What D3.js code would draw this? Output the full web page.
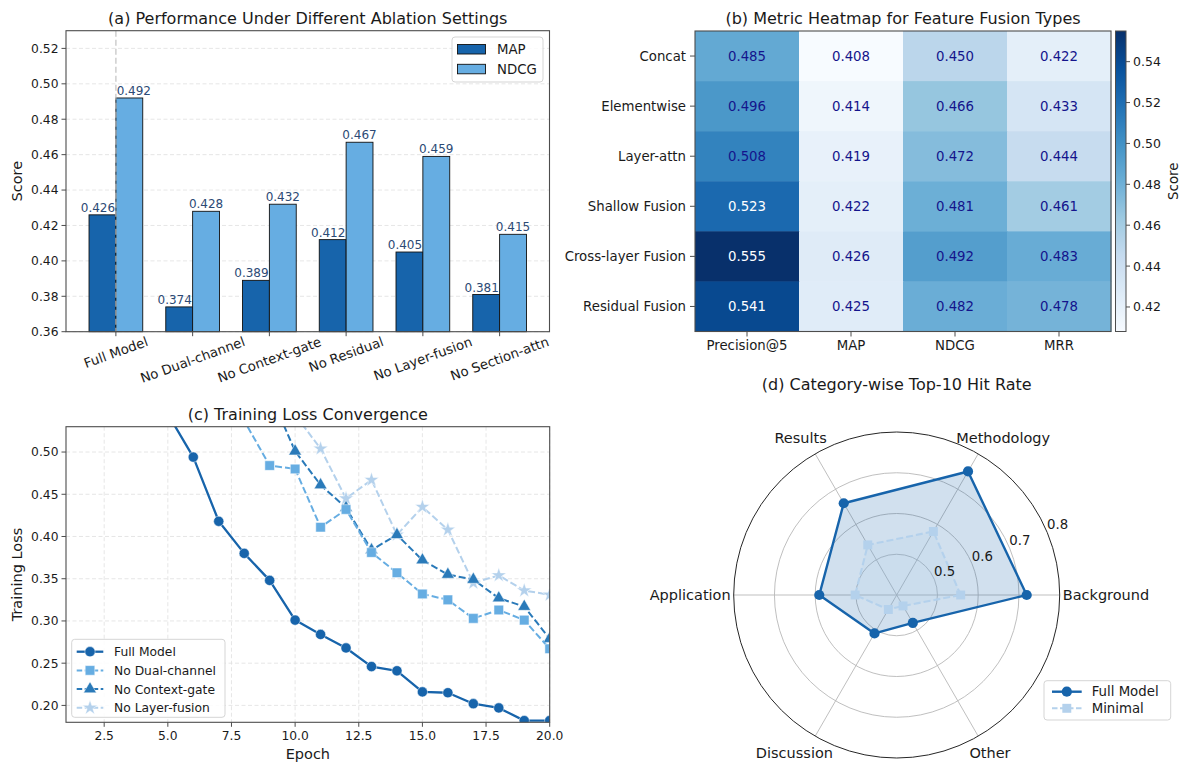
<!DOCTYPE html>
<html><head><meta charset="utf-8">
<script src="https://cdn.jsdelivr.net/npm/d3@7"></script>
<style>
body{margin:0;background:#fff}
svg{display:block;font-family:"DejaVu Sans",sans-serif}
</style></head>
<body><svg id="fig" width="1180" height="765"></svg>
<script>
// ---------- data ----------
const ablationCategories = ["Full Model","No Dual-channel","No Context-gate","No Residual","No Layer-fusion","No Section-attn"];
const mapScores  = [0.426,0.374,0.389,0.412,0.405,0.381];
const ndcgScores = [0.492,0.428,0.432,0.467,0.459,0.415];
const scoreTicks = [0.36,0.38,0.40,0.42,0.44,0.46,0.48,0.50,0.52];

const fusionTypes = ["Concat","Elementwise","Layer-attn","Shallow Fusion","Cross-layer Fusion","Residual Fusion"];
const heatMetrics = ["Precision@5","MAP","NDCG","MRR"];
const heatPrecision5 = [0.485,0.496,0.508,0.523,0.555,0.541];
const heatMAP  = [0.408,0.414,0.419,0.422,0.426,0.425];
const heatNDCG = [0.450,0.466,0.472,0.481,0.492,0.482];
const heatMRR  = [0.422,0.433,0.444,0.461,0.483,0.478];
const colorbarTicks = [0.42,0.44,0.46,0.48,0.50,0.52,0.54];

const epochs = [1,2,3,4,5,6,7,8,9,10,11,12,13,14,15,16,17,18,19,20];
const lossFullModel     = [0.86,0.76,0.68,0.61,0.545,0.494,0.418,0.380,0.348,0.301,0.284,0.268,0.246,0.241,0.216,0.215,0.202,0.197,0.182,0.182];
const lossNoDualChannel = [0.92,0.84,0.77,0.71,0.65,0.60,0.565,0.537,0.484,0.480,0.411,0.432,0.381,0.357,0.332,0.325,0.303,0.313,0.301,0.267];
const lossNoContextGate = [0.95,0.88,0.81,0.75,0.70,0.66,0.63,0.60,0.570,0.501,0.461,0.434,0.384,0.402,0.372,0.355,0.349,0.327,0.317,0.279];
const lossNoLayerFusion = [0.98,0.90,0.83,0.77,0.72,0.68,0.64,0.61,0.575,0.544,0.504,0.445,0.467,0.402,0.435,0.408,0.345,0.354,0.336,0.331];
const epochTicks = [2.5,5.0,7.5,10.0,12.5,15.0,17.5,20.0];
const lossTicks = [0.20,0.25,0.30,0.35,0.40,0.45,0.50];

const radarCategories = ["Background","Methodology","Results","Application","Discussion","Other"];
const hitFullModel = [0.719,0.750,0.660,0.590,0.509,0.479];
const hitMinimal   = [0.557,0.580,0.542,0.502,0.441,0.431];
const radarTicks = [0.5,0.6,0.7,0.8];

// ---------- palette ----------
const cDark = "#1764ab", cLight = "#66ade2", cMid = "#2a7ab9", cPale = "#b4d1ec";
const textCol = "#1a1a1a", spineCol = "#4d4d4d", gridCol = "#e0e0e0";
const svg = d3.select("#fig");
const defs = svg.append("defs");

function title(x, y, t){ svg.append("text").attr("x",x).attr("y",y).attr("text-anchor","middle")
  .attr("font-size",16).attr("fill",textCol).text(t); }

// ================= (a) grouped bars =================
const A = {l:66, r:549.5, t:30.7, b:331.7};
const xA = d3.scaleLinear().domain([-0.65,5.65]).range([A.l,A.r]);
const yA = d3.scaleLinear().domain([0.36,0.53]).range([A.b,A.t]);
const barW = 0.35;
const gA = svg.append("g");
gA.selectAll(null).data(scoreTicks).join("line")
  .attr("x1",A.l).attr("x2",A.r).attr("y1",d=>yA(d)).attr("y2",d=>yA(d))
  .attr("stroke",gridCol).attr("stroke-width",0.8).attr("stroke-dasharray","4,2.5");
const series = [{name:"MAP",vals:mapScores,col:cDark,off:-barW/2},{name:"NDCG",vals:ndcgScores,col:cLight,off:barW/2}];
series.forEach(s=>{
  gA.selectAll(null).data(s.vals).join("rect")
    .attr("x",(d,i)=>xA(i+s.off-barW/2)).attr("width",xA(barW)-xA(0))
    .attr("y",d=>yA(d)).attr("height",d=>yA(0.36)-yA(d))
    .attr("fill",s.col).attr("stroke","#111").attr("stroke-width",0.9);
});
// reference line at the full model
gA.append("line").attr("x1",xA(0)).attr("x2",xA(0)).attr("y1",A.t).attr("y2",A.b)
  .attr("stroke","#bdbdbd").attr("stroke-opacity",0.75).attr("stroke-width",1.5).attr("stroke-dasharray","6,3");
series.forEach((s,si)=>{
  gA.selectAll(null).data(s.vals).join("text")
    .attr("x",(d,i)=>xA(i+s.off) + (si===0 ? -4.5 : (i===0 ? 4.5 : 0)))
    .attr("y",d=>yA(d)-3).attr("text-anchor","middle").attr("font-size",12).attr("fill","#2c4a75")
    .text(d=>d.toFixed(3));
});
gA.append("rect").attr("x",A.l).attr("y",A.t).attr("width",A.r-A.l).attr("height",A.b-A.t)
  .attr("fill","none").attr("stroke",spineCol).attr("stroke-width",1.1);
gA.selectAll(null).data(scoreTicks).join("line")
  .attr("x1",A.l-4.5).attr("x2",A.l).attr("y1",d=>yA(d)).attr("y2",d=>yA(d)).attr("stroke",spineCol);
gA.selectAll(null).data(scoreTicks).join("text")
  .attr("x",A.l-7.5).attr("y",d=>yA(d)).attr("dy","0.36em").attr("text-anchor","end")
  .attr("font-size",12.3).attr("fill",textCol).text(d=>d.toFixed(2));
gA.selectAll(null).data(ablationCategories).join("line")
  .attr("x1",(d,i)=>xA(i)).attr("x2",(d,i)=>xA(i)).attr("y1",A.b).attr("y2",A.b+4.5).attr("stroke",spineCol);
ablationCategories.forEach((c,i)=>{
  const t = gA.append("text").attr("font-size",13.3).attr("fill",textCol).attr("text-anchor","middle").attr("dy","0.35em").text(c);
  const w = t.node().getComputedTextLength(), h = 15.5, th = 20*Math.PI/180;
  const H = w*Math.sin(th) + h*Math.cos(th);
  t.attr("transform",`translate(${xA(i)},${A.b+2+H/2}) rotate(-20)`);
});
gA.append("text").attr("transform",`translate(17,${(A.t+A.b)/2}) rotate(-90)`).attr("dy","0.35em")
  .attr("text-anchor","middle").attr("font-size",14.5).attr("fill",textCol).text("Score");
// legend
const lgA = gA.append("g");
lgA.append("rect").attr("x",452).attr("y",37).attr("width",91).attr("height",45).attr("rx",3)
  .attr("fill","#fff").attr("fill-opacity",0.8).attr("stroke","#d5d5d5");
series.forEach((s,i)=>{
  lgA.append("rect").attr("x",457.5).attr("y",44.5+i*19.8).attr("width",28).attr("height",9.5)
    .attr("fill",s.col).attr("stroke","#111").attr("stroke-width",0.9);
  lgA.append("text").attr("x",497).attr("y",49.3+i*19.8).attr("dy","0.36em").attr("font-size",13.3).attr("fill",textCol).text(s.name);
});
title((A.l+A.r)/2, 23.5, "(a) Performance Under Different Ablation Settings");

// ================= (b) heatmap =================
const B = {l:695, r:1111, t:31, b:331.5};
const heatColumns = [heatPrecision5, heatMAP, heatNDCG, heatMRR];
const cells = [];
fusionTypes.forEach((f,ri)=>heatMetrics.forEach((m,ci)=>cells.push({row:f,col:m,v:heatColumns[ci][ri]})));
const vmin = d3.min(cells,d=>d.v), vmax = d3.max(cells,d=>d.v);
const blues9 = ["#f7fbff","#deebf7","#c6dbef","#9ecae1","#6baed6","#4292c6","#2171b5","#08519c","#08306b"];
const colorB = d3.scaleLinear().domain(blues9.map((c,i)=>vmin+i*(vmax-vmin)/8)).range(blues9).interpolate(d3.interpolateRgb);
const xB = d3.scaleBand().domain(heatMetrics).range([B.l,B.r]);
const yB = d3.scaleBand().domain(fusionTypes).range([B.t,B.b]);
const gB = svg.append("g");
gB.selectAll(null).data(cells).join("rect")
  .attr("x",d=>xB(d.col)).attr("y",d=>yB(d.row)).attr("width",xB.bandwidth()+0.5).attr("height",yB.bandwidth()+0.5)
  .attr("fill",d=>colorB(d.v));
gB.selectAll(null).data(cells).join("text")
  .attr("x",d=>xB(d.col)+xB.bandwidth()/2).attr("y",d=>yB(d.row)+yB.bandwidth()/2).attr("dy","0.36em")
  .attr("text-anchor","middle").attr("font-size",13.3)
  .attr("fill",d=>d.v>0.515?"#ffffff":"#14148c").text(d=>d.v.toFixed(3));
gB.append("rect").attr("x",B.l).attr("y",B.t).attr("width",B.r-B.l).attr("height",B.b-B.t)
  .attr("fill","none").attr("stroke",spineCol).attr("stroke-width",1.1);
gB.selectAll(null).data(fusionTypes).join("line")
  .attr("x1",B.l-5).attr("x2",B.l).attr("y1",d=>yB(d)+yB.bandwidth()/2).attr("y2",d=>yB(d)+yB.bandwidth()/2).attr("stroke",spineCol);
gB.selectAll(null).data(fusionTypes).join("text")
  .attr("x",B.l-9).attr("y",d=>yB(d)+yB.bandwidth()/2).attr("dy","0.36em").attr("text-anchor","end")
  .attr("font-size",13.3).attr("fill",textCol).text(d=>d);
gB.selectAll(null).data(heatMetrics).join("line")
  .attr("x1",d=>xB(d)+xB.bandwidth()/2).attr("x2",d=>xB(d)+xB.bandwidth()/2).attr("y1",B.b).attr("y2",B.b+5).attr("stroke",spineCol);
gB.selectAll(null).data(heatMetrics).join("text")
  .attr("x",d=>xB(d)+xB.bandwidth()/2).attr("y",350).attr("text-anchor","middle")
  .attr("font-size",13.3).attr("fill",textCol).text(d=>d);
// colorbar
const CB = {l:1115.5, r:1126, t:B.t, b:B.b};
const yCB = d3.scaleLinear().domain([vmin,vmax]).range([CB.b,CB.t]);
const grad = defs.append("linearGradient").attr("id","cbGrad")
  .attr("x1",0).attr("y1",1).attr("x2",0).attr("y2",0);
d3.range(0,1.0001,0.02).forEach(t=>grad.append("stop").attr("offset",t).attr("stop-color",colorB(vmin+t*(vmax-vmin))));
gB.append("rect").attr("x",CB.l).attr("y",CB.t).attr("width",CB.r-CB.l).attr("height",CB.b-CB.t)
  .attr("fill","url(#cbGrad)").attr("stroke",spineCol).attr("stroke-width",1);
gB.selectAll(null).data(colorbarTicks).join("line")
  .attr("x1",CB.r).attr("x2",CB.r+4).attr("y1",d=>yCB(d)).attr("y2",d=>yCB(d)).attr("stroke",spineCol);
gB.selectAll(null).data(colorbarTicks).join("text")
  .attr("x",CB.r+7).attr("y",d=>yCB(d)).attr("dy","0.36em").attr("font-size",12.5).attr("fill",textCol).text(d=>d.toFixed(2));
gB.append("text").attr("transform",`translate(1173,${(CB.t+CB.b)/2}) rotate(-90)`).attr("dy","0.35em")
  .attr("text-anchor","middle").attr("font-size",13.3).attr("fill",textCol).text("Score");
title((B.l+B.r)/2, 23.5, "(b) Metric Heatmap for Feature Fusion Types");

// ================= (c) loss curves =================
const C = {l:66, r:549.7, t:426.7, b:722.3};
const xC = d3.scaleLinear().domain([1,20]).range([C.l,C.r]);
const yC = d3.scaleLinear().domain([0.18,0.53]).range([C.b,C.t]);
const gC = svg.append("g");
defs.append("clipPath").attr("id","clipC").append("rect")
  .attr("x",C.l).attr("y",C.t).attr("width",C.r-C.l).attr("height",C.b-C.t);
gC.selectAll(null).data(lossTicks).join("line")
  .attr("x1",C.l).attr("x2",C.r).attr("y1",d=>yC(d)).attr("y2",d=>yC(d))
  .attr("stroke",gridCol).attr("stroke-width",0.8).attr("stroke-dasharray","4,2.5");
gC.selectAll(null).data(epochTicks).join("line")
  .attr("x1",d=>xC(d)).attr("x2",d=>xC(d)).attr("y1",C.t).attr("y2",C.b)
  .attr("stroke",gridCol).attr("stroke-width",0.8).attr("stroke-dasharray","4,2.5");
const lossSeries = [
  {name:"Full Model", vals:lossFullModel, col:cDark, dash:null, sym:d3.symbolCircle, size:82, lw:2.3},
  {name:"No Dual-channel", vals:lossNoDualChannel, col:cLight, dash:"7,3", sym:d3.symbolSquare, size:92, lw:2},
  {name:"No Context-gate", vals:lossNoContextGate, col:cMid, dash:"7,3", sym:d3.symbolTriangle, size:72, lw:2},
  {name:"No Layer-fusion", vals:lossNoLayerFusion, col:cPale, dash:"7,3", sym:d3.symbolStar, size:70, lw:2}
];
const plotC = gC.append("g").attr("clip-path","url(#clipC)");
const lineC = d3.line().x((d,i)=>xC(epochs[i])).y(d=>yC(d));
lossSeries.slice().reverse().forEach(s=>{
  plotC.append("path").attr("d",lineC(s.vals)).attr("fill","none").attr("stroke",s.col)
    .attr("stroke-width",s.lw).attr("stroke-dasharray",s.dash).attr("stroke-linejoin","round");
  plotC.selectAll(null).data(s.vals).join("path")
    .attr("transform",(d,i)=>`translate(${xC(epochs[i])},${yC(d)})`)
    .attr("d",d3.symbol().type(s.sym).size(s.size)).attr("fill",s.col).attr("stroke","#fff").attr("stroke-width",0.5);
});
gC.append("rect").attr("x",C.l).attr("y",C.t).attr("width",C.r-C.l).attr("height",C.b-C.t)
  .attr("fill","none").attr("stroke",spineCol).attr("stroke-width",1.1);
gC.selectAll(null).data(lossTicks).join("line")
  .attr("x1",C.l-4.5).attr("x2",C.l).attr("y1",d=>yC(d)).attr("y2",d=>yC(d)).attr("stroke",spineCol);
gC.selectAll(null).data(lossTicks).join("text")
  .attr("x",C.l-7.5).attr("y",d=>yC(d)).attr("dy","0.36em").attr("text-anchor","end")
  .attr("font-size",12.3).attr("fill",textCol).text(d=>d.toFixed(2));
gC.selectAll(null).data(epochTicks).join("line")
  .attr("x1",d=>xC(d)).attr("x2",d=>xC(d)).attr("y1",C.b).attr("y2",C.b+4.5).attr("stroke",spineCol);
gC.selectAll(null).data(epochTicks).join("text")
  .attr("x",d=>xC(d)).attr("y",739.5).attr("text-anchor","middle")
  .attr("font-size",12.3).attr("fill",textCol).text(d=>d.toFixed(1));
gC.append("text").attr("x",(C.l+C.r)/2).attr("y",758.5).attr("text-anchor","middle")
  .attr("font-size",14.5).attr("fill",textCol).text("Epoch");
gC.append("text").attr("transform",`translate(17,${(C.t+C.b)/2}) rotate(-90)`).attr("dy","0.35em")
  .attr("text-anchor","middle").attr("font-size",14.5).attr("fill",textCol).text("Training Loss");
const lgC = gC.append("g");
lgC.append("rect").attr("x",71.7).attr("y",639.3).attr("width",153.3).attr("height",78).attr("rx",3)
  .attr("fill","#fff").attr("fill-opacity",0.85).attr("stroke","#d5d5d5");
lossSeries.forEach((s,i)=>{
  const y = 651.7 + i*18.7;
  lgC.append("line").attr("x1",76.7).attr("x2",103.3).attr("y1",y).attr("y2",y)
    .attr("stroke",s.col).attr("stroke-width",s.lw).attr("stroke-dasharray",s.dash?"5.5,2.5":null);
  lgC.append("path").attr("transform",`translate(90,${y})`).attr("d",d3.symbol().type(s.sym).size(s.size))
    .attr("fill",s.col).attr("stroke","#fff").attr("stroke-width",0.5);
  lgC.append("text").attr("x",114).attr("y",y).attr("dy","0.36em").attr("font-size",12.3).attr("fill",textCol).text(s.name);
});
title((C.l+C.r)/2, 420, "(c) Training Loss Convergence");

// ================= (d) radar =================
const Dd = {cx:896.7, cy:595, R:163};
const rD = d3.scaleLinear().domain([0.4,0.8]).range([0,Dd.R]);
const nCat = radarCategories.length;
const thetaOf = i => i*2*Math.PI/nCat;          // counter-clockwise from east
const gD = svg.append("g").attr("transform",`translate(${Dd.cx},${Dd.cy})`);
gD.selectAll(null).data(radarTicks.slice(0,-1)).join("circle").attr("r",d=>rD(d))
  .attr("fill","none").attr("stroke","#b8b8b8").attr("stroke-width",0.9);
gD.selectAll(null).data(radarCategories).join("line")
  .attr("x1",0).attr("y1",0).attr("x2",(d,i)=>Dd.R*Math.cos(thetaOf(i))).attr("y2",(d,i)=>-Dd.R*Math.sin(thetaOf(i)))
  .attr("stroke","#b8b8b8").attr("stroke-width",0.9);
const radial = d3.lineRadial().angle((d,i)=>Math.PI/2 - thetaOf(i)).radius(d=>rD(d)).curve(d3.curveLinearClosed);
const radarSeries = [
  {name:"Full Model", vals:hitFullModel, col:cDark, dash:null, sym:d3.symbolCircle, size:82, lw:2.4},
  {name:"Minimal", vals:hitMinimal, col:cPale, dash:"7,3", sym:d3.symbolSquare, size:80, lw:2.1}
];
radarSeries.forEach(s=>{
  gD.append("path").attr("d",radial(s.vals)).attr("fill",s.col).attr("fill-opacity",0.2).attr("stroke","none");
});
radarSeries.slice().reverse().forEach(s=>{
  gD.append("path").attr("d",radial(s.vals)).attr("fill","none").attr("stroke",s.col)
    .attr("stroke-width",s.lw).attr("stroke-dasharray",s.dash).attr("stroke-linejoin","round");
  gD.selectAll(null).data(s.vals).join("path")
    .attr("transform",(d,i)=>`translate(${rD(d)*Math.cos(thetaOf(i))},${-rD(d)*Math.sin(thetaOf(i))})`)
    .attr("d",d3.symbol().type(s.sym).size(s.size)).attr("fill",s.col);
});
gD.append("circle").attr("r",Dd.R).attr("fill","none").attr("stroke","#262626").attr("stroke-width",1);
const rlab = 22.5*Math.PI/180;
gD.selectAll(null).data(radarTicks).join("text")
  .attr("x",d=>rD(d)*Math.cos(rlab)+10.3).attr("y",d=>-rD(d)*Math.sin(rlab)-8).attr("dy","0.36em")
  .attr("text-anchor","middle").attr("font-size",13.3).attr("fill",textCol).text(d=>d.toFixed(1));
radarCategories.forEach((c,i)=>{
  const th = thetaOf(i);
  const t = gD.append("text").attr("font-size",14.5).attr("fill",textCol).attr("text-anchor","middle").attr("dy","0.36em").text(c);
  const w = t.node().getComputedTextLength();
  t.attr("x",Math.cos(th)*(Dd.R + 3 + w/2)).attr("y",-Math.sin(th)*(Dd.R + 19));
});
const lgD = svg.append("g");
lgD.append("rect").attr("x",1044).attr("y",680.7).attr("width",126.7).attr("height",39.3).attr("rx",3)
  .attr("fill","#fff").attr("fill-opacity",0.85).attr("stroke","#d5d5d5");
radarSeries.forEach((s,i)=>{
  const y = 691.7 + i*16.6;
  lgD.append("line").attr("x1",1052).attr("x2",1081.7).attr("y1",y).attr("y2",y)
    .attr("stroke",s.col).attr("stroke-width",s.lw).attr("stroke-dasharray",s.dash?"5.5,2.5":null);
  lgD.append("path").attr("transform",`translate(1066.8,${y})`).attr("d",d3.symbol().type(s.sym).size(s.size)).attr("fill",s.col);
  lgD.append("text").attr("x",1091.7).attr("y",y).attr("dy","0.36em").attr("font-size",13.3).attr("fill",textCol).text(s.name);
});
title(Dd.cx, 389.5, "(d) Category-wise Top-10 Hit Rate");
</script></body></html>
